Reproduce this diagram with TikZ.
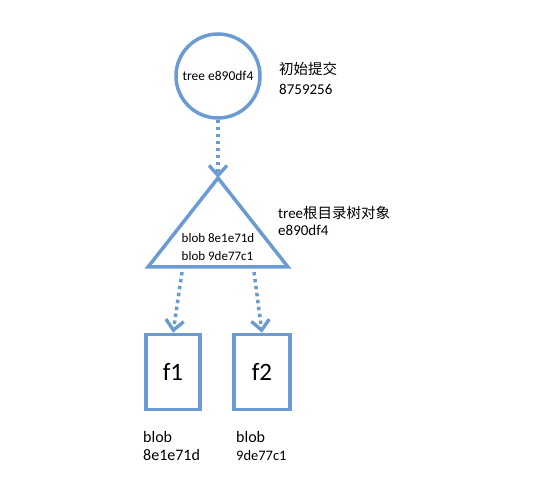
\documentclass[tikz,border=0pt]{standalone}
\usepackage{fontspec}
\setmainfont{Carlito}
\newfontfamily\cjk{Noto Sans CJK SC}
\usetikzlibrary{arrows.meta}
\definecolor{ob}{HTML}{6A9BD3}
\tikzset{
  shapeline/.style={draw=ob, line width=3.5pt},
  dotarrow/.style={draw=ob, line width=3.5pt, dash pattern=on 3.5pt off 3.5pt, -{Straight Barb[length=10pt,width=18pt,line width=3.4pt]}},
  lbl/.style={anchor=west, align=left, inner sep=0pt},
}
\begin{document}
\begin{tikzpicture}[x=1pt,y=-1pt]
\useasboundingbox (0,0) rectangle (536,481);
% commit circle
\node[shapeline, circle, minimum size=84pt, inner sep=0pt, font=\fontsize{13.5}{15}\selectfont] (c) at (218,76) {tree e890df4};
\node[lbl, font=\fontsize{15}{20}\selectfont] (cl) at (279,78) {{\cjk\fontsize{14.5}{20}\selectfont 初始提交}\\8759256};
% tree triangle
\coordinate (ta) at (218,178);
\coordinate (tl) at (148,267);
\coordinate (tr) at (288,267);
\draw[shapeline, line join=miter] (ta) -- (tl) -- (tr) -- cycle;
\node[inner sep=0pt, align=left, font=\fontsize{13}{18}\selectfont] (tt) at (218,247) {blob 8e1e71d\\blob 9de77c1};
\node[lbl, font=\fontsize{15}{17}\selectfont] (tlbl) at (278,221) {tree{\cjk\fontsize{14.5}{17}\selectfont 根目录树对象}\\e890df4};
% blobs
\node[shapeline, rectangle, minimum width=54pt, minimum height=75pt, inner sep=0pt, font=\fontsize{25}{28}\selectfont] (f1) at (173,372) {f1};
\node[shapeline, rectangle, minimum width=56pt, minimum height=75pt, inner sep=0pt, font=\fontsize{25}{28}\selectfont] (f2) at (262,372) {f2};
\node[lbl, font=\fontsize{16}{18}\selectfont] (b1) at (143,446) {blob\\8e1e71d};
\node[lbl, font=\fontsize{16}{18}\selectfont] (b2) at (236,446) {blob\\{\fontsize{14.5}{18}\selectfont 9de77c1}};
% connectors
\coordinate (s1) at (182,272);
\coordinate (s2) at (254,272);
\draw[dotarrow] (c.south) -- (ta);
\draw[dotarrow] (s1) -- (f1.north);
\draw[dotarrow] (s2) -- (f2.north);
\end{tikzpicture}
\end{document}
